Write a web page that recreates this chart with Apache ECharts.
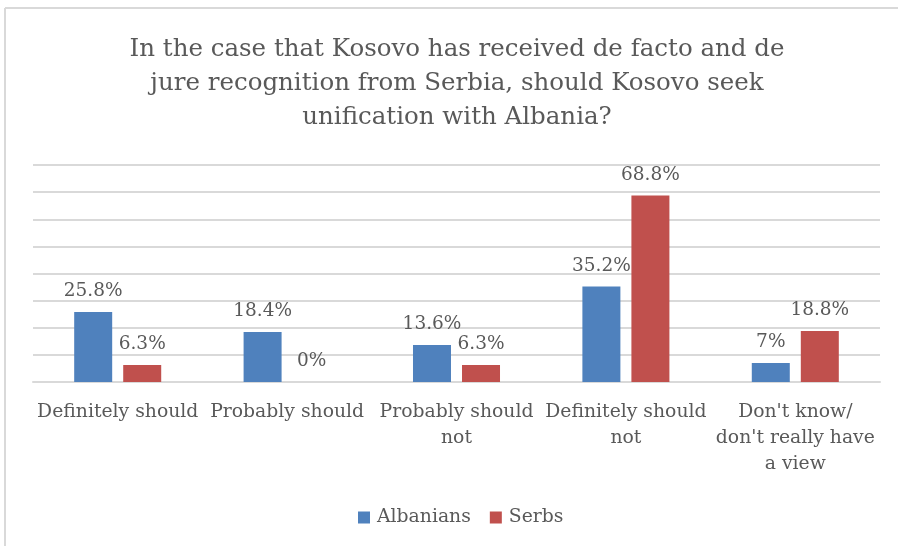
<!DOCTYPE html>
<html>
<head>
<meta charset="utf-8">
<script src="https://cdn.jsdelivr.net/npm/echarts@6/dist/echarts.min.js"></script>
<style>
html,body{margin:0;padding:0;background:#fff;}
#chart{width:898px;height:546px;}
</style>
</head>
<body>
<div id="chart"></div>
<script>
const titleText = "In the case that Kosovo has received de facto and de\njure recognition from Serbia, should Kosovo seek\nunification with Albania?";
const categories = ["Definitely should", "Probably should", "Probably should\nnot", "Definitely should\nnot", "Don't know/\ndon't really have\na view"];
const seriesNames = ["Albanians", "Serbs"];
const albanians = [25.8, 18.4, 13.6, 35.2, 7];
const serbs = [6.3, 0, 6.3, 68.8, 18.8];
const colors = ["#4F81BD", "#C0504D"];
const FONT = "DejaVu Serif";
const TXT = "#595959";

const chart = echarts.init(document.getElementById('chart'), null, {renderer: 'canvas'});
function mkSeries(name, data, color) {
  return {
    name: name,
    type: 'bar',
    data: data,
    barWidth: 38,
    barGap: '29%',
    itemStyle: {color: color},
    label: {
      show: true,
      position: 'top',
      distance: 11,
      formatter: p => p.value + '%',
      fontFamily: FONT,
      fontSize: 18.5,
      color: TXT
    }
  };
}
chart.setOption({
  animation: false,
  backgroundColor: '#fff',
  title: {
    text: titleText,
    left: 452,
    textAlign: 'center',
    top: 28,
    textStyle: {fontFamily: FONT, fontSize: 24.5, fontWeight: 'normal', color: TXT, lineHeight: 34}
  },
  legend: {
    data: seriesNames,
    left: 353,
    top: 503,
    itemWidth: 12,
    itemHeight: 12,
    itemGap: 19,
    icon: 'rect',
    textStyle: {fontFamily: FONT, fontSize: 18.8, color: TXT, padding: [0, 0, 0, 2]}
  },
  grid: {left: 33, right: 18, top: 165, bottom: 164},
  xAxis: {
    type: 'category',
    data: categories,
    axisLine: {lineStyle: {color: '#d9d9d9', width: 2}},
    axisTick: {show: false},
    axisLabel: {fontFamily: FONT, fontSize: 18.8, color: TXT, lineHeight: 26, margin: 17, interval: 0}
  },
  yAxis: {
    type: 'value',
    min: 0,
    max: 80,
    interval: 10,
    axisLabel: {show: false},
    axisLine: {show: false},
    axisTick: {show: false},
    splitLine: {lineStyle: {color: '#d9d9d9', width: 2}}
  },
  series: [mkSeries(seriesNames[0], albanians, colors[0]), mkSeries(seriesNames[1], serbs, colors[1])],
  graphic: [
    {type: 'line', shape: {x1: 5, y1: 8, x2: 5, y2: 546}, style: {stroke: '#d9d9d9', lineWidth: 2}},
    {type: 'line', shape: {x1: 5, y1: 8, x2: 898, y2: 8}, style: {stroke: '#d9d9d9', lineWidth: 2}}
  ]
});
</script>
</body>
</html>
